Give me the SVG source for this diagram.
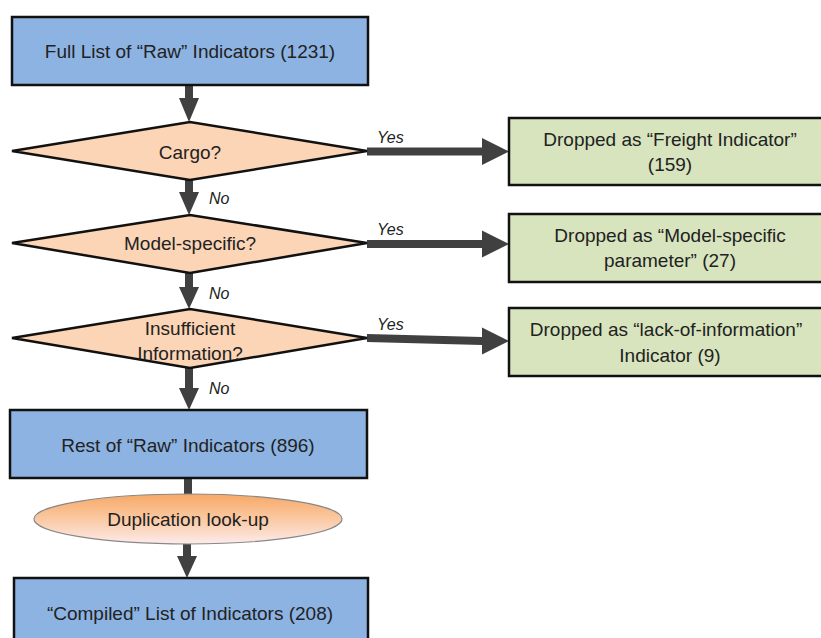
<svg xmlns="http://www.w3.org/2000/svg" width="821" height="638" viewBox="0 0 821 638">
<defs>
<linearGradient id="ellG" x1="0" y1="0" x2="0" y2="1">
<stop offset="0" stop-color="#F7A866"/>
<stop offset="0.5" stop-color="#FAC9A2"/>
<stop offset="1" stop-color="#FDEBEB"/>
</linearGradient>
</defs>
<style>
.blue{fill:#8DB3E2;stroke:#111;stroke-width:2.5}
.dia{fill:#FBD5B5;stroke:#111;stroke-width:2.5}
.green{fill:#D7E4BD;stroke:#111;stroke-width:2.5}
.t{font-family:"Liberation Sans",Arial,sans-serif;font-size:19px;fill:#222;text-anchor:middle}
.lbl{font-family:"Liberation Sans",Arial,sans-serif;font-size:16px;font-style:italic;fill:#222}
.arr{fill:#404040}
</style>
<g id="connectors">
<path class="arr" d="M185,85 H193 V98 H199 L189,122 L179,98 H185 Z"/>
<path class="arr" d="M185,180 H193 V192 H199 L189,215 L179,192 H185 Z"/>
<path class="arr" d="M185,273 H193 V287 H199 L189,309 L179,287 H185 Z"/>
<path class="arr" d="M185,368 H193 V388 H199 L189,410 L179,388 H185 Z"/>
<rect class="arr" x="184" y="478" width="8" height="18"/>
<path class="arr" d="M183,543 H191 V556 H197 L187,578 L177,556 H183 Z"/>
<path class="arr" d="M367,147.5 H482 V138 L509,151.5 L482,165 V155.5 H367 Z"/>
<path class="arr" d="M367,240 H482 V230.5 L509,244 L482,257.5 V248 H367 Z"/>
<path class="arr" d="M367,334 L482,337 V327.5 L509,341 L482,354.5 V345 L367,342 Z"/>
<text class="lbl" x="377" y="143">Yes</text>
<text class="lbl" x="377" y="235">Yes</text>
<text class="lbl" x="377" y="330">Yes</text>
<text class="lbl" x="209" y="204">No</text>
<text class="lbl" x="209" y="299">No</text>
<text class="lbl" x="209" y="394">No</text>
</g>
<g id="full-list">
<rect class="blue" x="12" y="17" width="356" height="68"/>
<text class="t" x="190" y="58">Full List of “Raw” Indicators (1231)</text>
</g>
<g id="cargo">
<polygon class="dia" points="12,151 190,122 367,151 190,180"/>
<text class="t" x="190" y="159">Cargo?</text>
</g>
<g id="model-specific">
<polygon class="dia" points="12,243 190,215 367,243 190,273"/>
<text class="t" x="190" y="250">Model-specific?</text>
</g>
<g id="insufficient">
<polygon class="dia" points="12,338 190,309 367,338 190,368"/>
<text class="t" x="190" y="335">Insufficient</text>
<text class="t" x="190" y="360">Information?</text>
</g>
<g id="dropped-freight">
<rect class="green" x="509" y="118" width="330" height="67"/>
<text class="t" x="670" y="146">Dropped as “Freight Indicator”</text>
<text class="t" x="670" y="171">(159)</text>
</g>
<g id="dropped-model">
<rect class="green" x="509" y="214" width="330" height="68"/>
<text class="t" x="670" y="242">Dropped as “Model-specific</text>
<text class="t" x="670" y="267">parameter” (27)</text>
</g>
<g id="dropped-info">
<rect class="green" x="509" y="308" width="330" height="68"/>
<text class="t" x="666" y="336">Dropped as “lack-of-information”</text>
<text class="t" x="670" y="362">Indicator (9)</text>
</g>
<g id="rest">
<rect class="blue" x="10" y="410" width="357" height="68"/>
<text class="t" x="188" y="452">Rest of “Raw” Indicators (896)</text>
</g>
<g id="duplication">
<ellipse cx="188" cy="519" rx="154" ry="25" fill="url(#ellG)" stroke="#888" stroke-width="1.2"/>
<text class="t" x="188" y="526">Duplication look-up</text>
</g>
<g id="compiled">
<rect class="blue" x="14" y="578" width="354" height="80"/>
<text class="t" x="190" y="620">“Compiled” List of Indicators (208)</text>
</g>
</svg>
